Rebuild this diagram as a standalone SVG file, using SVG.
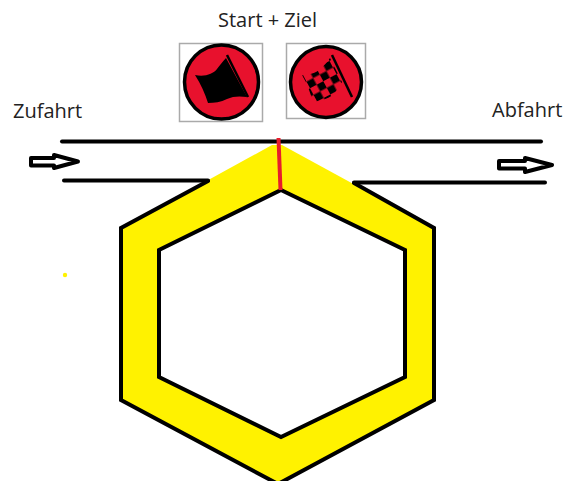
<svg xmlns="http://www.w3.org/2000/svg" width="566" height="481" viewBox="0 0 566 481">
<style>
text{font-family:"Open Sans","Noto Sans","Liberation Sans",sans-serif;font-size:20px;fill:#222}
.k{fill:none;stroke:#000;stroke-width:4;stroke-linecap:round;stroke-linejoin:miter}
.a{fill:#fff;stroke:#000;stroke-width:4;stroke-linejoin:round}
.f{fill:#fff;stroke:#aaa;stroke-width:1.5}
.c{fill:#e8112d;stroke:#000;stroke-width:3.5}
</style>
<defs>
<pattern id="chk" width="15" height="15" patternUnits="userSpaceOnUse" patternTransform="translate(303 75) rotate(-28)">
<rect width="15" height="15" fill="#000"/>
<rect width="7.500" height="7.500" fill="#e8112d"/>
<rect x="7.500" y="7.500" width="7.500" height="7.500" fill="#e8112d"/>
</pattern>
</defs>
<rect width="566" height="481" fill="#fff"/>
<g id="track">
<path d="M272 145L282 145L434 228V400L278 484L121 400V228Z" fill="#fff200"/>
<path d="M281 190L405 249V377L281 438L159 377V249Z" fill="#fff"/>
<path class="k" d="M208 181L121 228V400L278 484L434 400V228L354 183"/>
<path class="k" d="M281 190L405 250V377L281 437L159 377V250Z"/>
</g>
<g id="connectors">
<path class="k" d="M62 141.500H541"/>
<path class="k" d="M64 180.500H208M354 182.500H545"/>
<path class="a" d="M31 158H54V155L78 161.500L54 168V165.500H31Z"/>
<path class="a" d="M499 161H525V158L552 165L525 172V168.500H499Z"/>
<path d="M278.500 138L280.500 190" fill="none" stroke="#e81c2b" stroke-width="4"/>
<circle cx="65" cy="275" r="2.200" fill="#fff200"/>
</g>
<g id="start-flag">
<rect class="f" x="179.500" y="43.500" width="83" height="78"/>
<circle class="c" cx="221.500" cy="82" r="37"/>
<path d="M195 75C205 77 213 74 217 69C220 65 223 61 226 58L247 97C240 96 233 96 227 99C221 102 214 103 208 103C205 94 201 84 195 75Z" fill="#000"/>
<path d="M227 55L248 97" stroke="#000" stroke-width="2.500"/>
</g>
<g id="finish-flag">
<rect class="f" x="286.500" y="43.500" width="79" height="75"/>
<circle class="c" cx="326" cy="82" r="35.500"/>
<path d="M302 75C309 75 316 73 320 69C324 66 327 62 330 58L342 82C339 86 336 92 333 95C327 99 320 101 313 102C310 92 307 83 302 75Z" fill="url(#chk)"/>
<path d="M332 55L352 97" stroke="#000" stroke-width="2.500"/>
</g>
<g id="labels">
<text x="218" y="27">Start + Ziel</text>
<text x="13" y="118">Zufahrt</text>
<text x="492" y="117">Abfahrt</text>
</g>
</svg>
